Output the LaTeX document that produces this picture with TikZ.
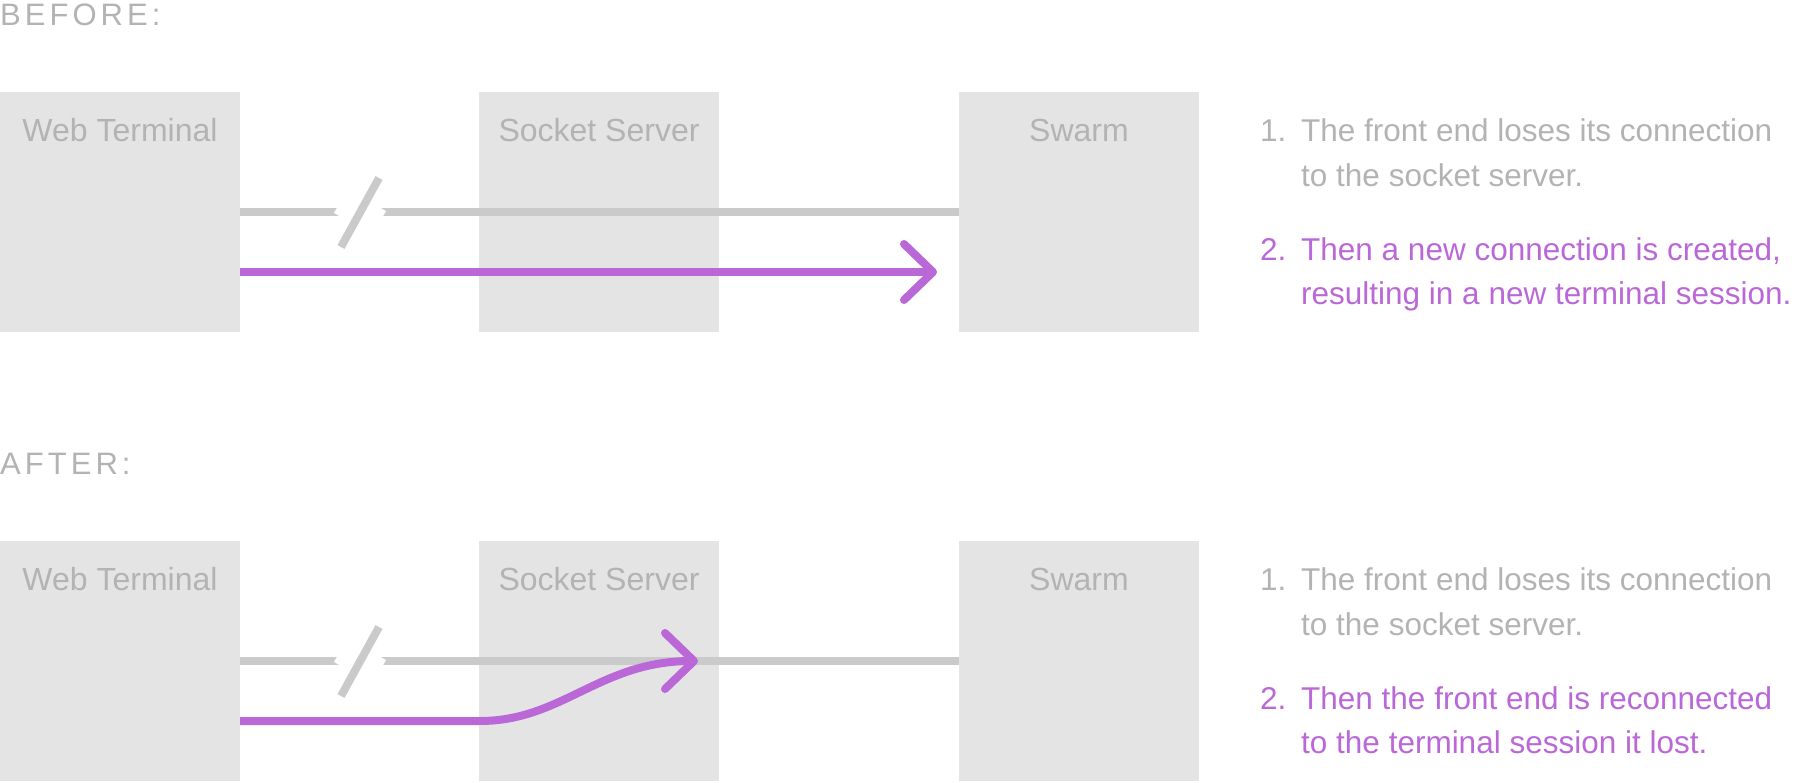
\documentclass[tikz,border=0pt]{standalone}
\usepackage{fontspec}
\setmainfont{Liberation Sans}
\newfontfamily\headfont[LetterSpace=13]{Liberation Sans}
\usetikzlibrary{calc}
\definecolor{boxfill}{HTML}{E4E4E4}
\definecolor{txtgray}{HTML}{B3B3B3}
\definecolor{linegray}{HTML}{CACACA}
\definecolor{purp}{HTML}{BA68D8}
\tikzset{
  box/.style={fill=boxfill, draw=none, minimum width=240pt, minimum height=240pt, inner sep=0pt, outer sep=0pt},
  boxlbl/.style={text=txtgray, anchor=base, inner sep=0pt, font=\fontsize{32pt}{38pt}\selectfont},
  head/.style={text=txtgray, anchor=base west, inner sep=0pt, font=\headfont\fontsize{31pt}{36pt}\selectfont},
  gtxt/.style={text=txtgray, anchor=base west, inner sep=0pt, font=\fontsize{31.5pt}{38pt}\selectfont},
  ptxt/.style={text=purp, anchor=base west, inner sep=0pt, font=\fontsize{31.5pt}{38pt}\selectfont},
  grayline/.style={draw=linegray, line width=8pt},
  cutline/.style={draw=white, line width=44pt},
  slashline/.style={draw=linegray, line width=8pt},
  purpline/.style={draw=purp, line width=8pt},
  purphead/.style={draw=purp, line width=8pt, line cap=round, line join=round},
}
\begin{document}
\begin{tikzpicture}[x=1pt,y=-1pt]
\useasboundingbox (0,0) rectangle (1794,782);

% ---------- BEFORE ----------
\node[head] (hbefore) at (0,25) {BEFORE:};

\node[box] (wt1) at (120,212) {};
\node[box] (ss1) at (599,212) {};
\node[box] (sw1) at (1079,212) {};
\node[boxlbl] (wt1l) at (120,141) {Web Terminal};
\node[boxlbl] (ss1l) at (599,141) {Socket Server};
\node[boxlbl] (sw1l) at (1079,141) {Swarm};

\draw[grayline] (wt1.east) -- (sw1.west);
\coordinate (cut1) at (360,212);
\draw[cutline] (cut1) +(-7,12) -- +(7,-12);
\draw[slashline] (cut1) +(-19,35) -- +(19,-34);

\coordinate (tip1) at (933,272);
\draw[purpline] ([yshift=-60pt]wt1.east) -- ([xshift=-3pt]tip1);
\draw[purphead] (tip1) +(-29,-28) -- (tip1) -- +(-29,28);

\node[gtxt] (b1n) at (1260,141) {1.};
\node[gtxt] (b1a) at (1301,141) {The front end loses its connection};
\node[gtxt] (b1b) at (1301,186) {to the socket server.};
\node[ptxt] (b2n) at (1260,260) {2.};
\node[ptxt] (b2a) at (1301,260) {Then a new connection is created,};
\node[ptxt] (b2b) at (1301,304) {resulting in a new terminal session.};

% ---------- AFTER ----------
\node[head] (hafter) at (0,474) {AFTER:};

\node[box] (wt2) at (120,661) {};
\node[box] (ss2) at (599,661) {};
\node[box] (sw2) at (1079,661) {};
\node[boxlbl] (wt2l) at (120,590) {Web Terminal};
\node[boxlbl] (ss2l) at (599,590) {Socket Server};
\node[boxlbl] (sw2l) at (1079,590) {Swarm};

\draw[grayline] (wt2.east) -- (sw2.west);
\coordinate (cut2) at (360,661);
\draw[cutline] (cut2) +(-7,12) -- +(7,-12);
\draw[slashline] (cut2) +(-19,35) -- +(19,-34);

\coordinate (bend2) at (480,721);
\coordinate (tip2) at (694,661);
\draw[purpline] ([yshift=-60pt]wt2.east) -- (bend2) .. controls (562,721) and (600,661) .. ([xshift=-3pt]tip2);
\draw[purphead] (tip2) +(-29,-28) -- (tip2) -- +(-29,28);

\node[gtxt] (a1n) at (1260,590) {1.};
\node[gtxt] (a1a) at (1301,590) {The front end loses its connection};
\node[gtxt] (a1b) at (1301,635) {to the socket server.};
\node[ptxt] (a2n) at (1260,709) {2.};
\node[ptxt] (a2a) at (1301,709) {Then the front end is reconnected};
\node[ptxt] (a2b) at (1301,753) {to the terminal session it lost.};
\end{tikzpicture}
\end{document}
